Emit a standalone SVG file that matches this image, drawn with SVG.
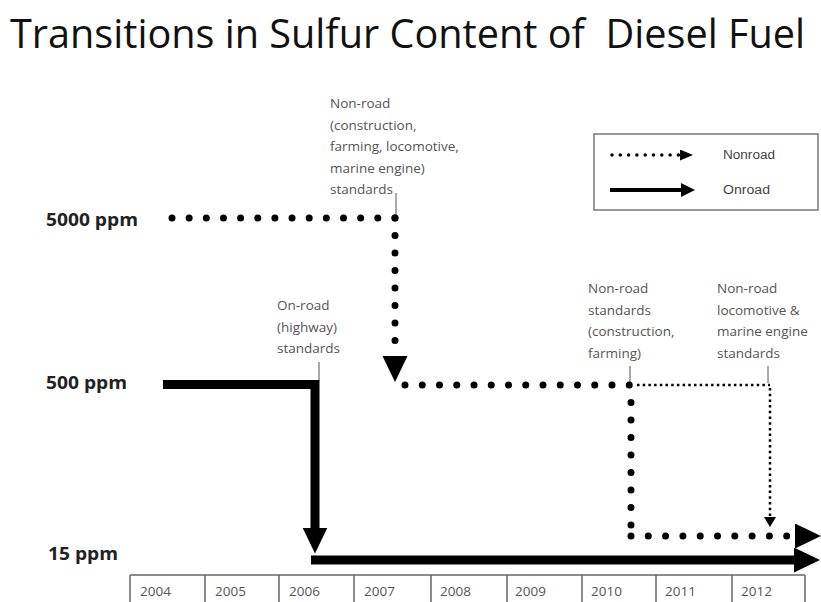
<svg xmlns="http://www.w3.org/2000/svg" width="821" height="602" viewBox="0 0 821 602">
<style>
  .title { font-family: "Open Sans", "Liberation Sans", sans-serif; font-size: 40px; fill: #111; }
  .ppm { font-family: "Open Sans", "Liberation Sans", sans-serif; font-weight: bold; font-size: 18px; fill: #222; }
  .note { font-family: "Open Sans", "Liberation Sans", sans-serif; font-size: 13.5px; fill: #555; }
  .leg { font-family: "Liberation Sans", Arial, sans-serif; font-size: 12px; fill: #444; }
  .year { font-family: "Open Sans", "Liberation Sans", sans-serif; font-size: 13.5px; fill: #555; }
  .tick { stroke: #555; stroke-width: 1; fill: none; }
  .dots { stroke: #000; stroke-width: 7; stroke-linecap: round; stroke-dasharray: 0 17.3; fill: none; }
  .thin { stroke: #000; stroke-width: 2.5; stroke-dasharray: 2.5 3.2; fill: none; }
  .solid { stroke: #000; stroke-width: 9; fill: none; stroke-linejoin: miter; }
  .grid { stroke: #666; stroke-width: 1.5; fill: none; }
</style>
<defs>
  <marker id="big" markerUnits="userSpaceOnUse" markerWidth="27" markerHeight="26" viewBox="0 0 27 26" refX="2" refY="12.5" orient="auto">
    <path d="M0,0 L26,12.5 L0,25 Z" fill="#000"/>
  </marker>
  <marker id="small" markerUnits="userSpaceOnUse" markerWidth="12" markerHeight="13" viewBox="0 0 12 13" refX="1" refY="6" orient="auto">
    <path d="M0,0 L10,6 L0,12 Z" fill="#000"/>
  </marker>
  <marker id="legdot" markerUnits="userSpaceOnUse" markerWidth="14" markerHeight="12" viewBox="0 0 14 12" refX="1" refY="5.5" orient="auto">
    <path d="M0,0 L13,5.5 L0,11 Z" fill="#000"/>
  </marker>
  <marker id="legsol" markerUnits="userSpaceOnUse" markerWidth="15" markerHeight="15" viewBox="0 0 15 15" refX="1" refY="7" orient="auto">
    <path d="M0,0 L14,7 L0,14 Z" fill="#000"/>
  </marker>
</defs>

<rect width="821" height="602" fill="#fff"/>

<text class="title" x="10" y="48" textLength="795" lengthAdjust="spacingAndGlyphs" xml:space="preserve">Transitions in Sulfur Content of  Diesel Fuel</text>

<g id="level-5000">
  <text class="ppm" x="46" y="226" textLength="92" lengthAdjust="spacingAndGlyphs">5000 ppm</text>
</g>
<g id="level-500">
  <text class="ppm" x="46" y="389" textLength="81" lengthAdjust="spacingAndGlyphs">500 ppm</text>
</g>
<g id="level-15">
  <text class="ppm" x="48" y="560" textLength="70" lengthAdjust="spacingAndGlyphs">15 ppm</text>
</g>

<g id="note-nonroad-2007">
  <text class="note" x="330" y="108">Non-road</text>
  <text class="note" x="330" y="129.5">(construction,</text>
  <text class="note" x="330" y="151">farming, locomotive,</text>
  <text class="note" x="330" y="172.5">marine engine)</text>
  <text class="note" x="330" y="194">standards</text>
  <line class="tick" x1="396" y1="193" x2="396" y2="216"/>
</g>

<g id="note-onroad-2006">
  <text class="note" x="277" y="310">On-road</text>
  <text class="note" x="277" y="331.5">(highway)</text>
  <text class="note" x="277" y="353">standards</text>
  <line class="tick" x1="319" y1="362" x2="319" y2="381"/>
</g>

<g id="note-nonroad-2010">
  <text class="note" x="588" y="293">Non-road</text>
  <text class="note" x="588" y="314.5">standards</text>
  <text class="note" x="588" y="336">(construction,</text>
  <text class="note" x="588" y="357.5">farming)</text>
  <line class="tick" x1="630" y1="366" x2="630" y2="383"/>
</g>

<g id="note-nonroad-2012">
  <text class="note" x="717" y="293">Non-road</text>
  <text class="note" x="717" y="314.5">locomotive &amp;</text>
  <text class="note" x="717" y="336">marine engine</text>
  <text class="note" x="717" y="357.5">standards</text>
  <line class="tick" x1="768" y1="366" x2="768" y2="383"/>
</g>

<g id="legend">
  <rect x="594" y="134" width="224" height="76" fill="#fff" stroke="#777" stroke-width="1.5"/>
  <path d="M612,155 H681" stroke="#000" stroke-width="3.5" stroke-linecap="round" stroke-dasharray="0 8.3" fill="none" marker-end="url(#legdot)"/>
  <path d="M610,190 H682" stroke="#000" stroke-width="4" fill="none" marker-end="url(#legsol)"/>
  <text class="leg" x="723" y="159" textLength="52" lengthAdjust="spacingAndGlyphs">Nonroad</text>
  <text class="leg" x="723" y="194" textLength="47" lengthAdjust="spacingAndGlyphs">Onroad</text>
</g>

<g id="connectors">
  <!-- nonroad -->
  <path class="dots" d="M172,218 H395" style="stroke-dasharray:0 17.15"/>
  <path class="dots" d="M395,218 V358" style="stroke-dasharray:0 17.5" marker-end="url(#big)"/>
  <path class="dots" d="M405,385 H630" style="stroke-dasharray:0 17.25"/>
  <path class="thin" d="M637,385 H770"/>
  <path class="thin" d="M770,388 V518" marker-end="url(#small)"/>
  <path class="dots" d="M631,402.5 V526" style="stroke-dasharray:0 17.5"/>
  <path class="dots" d="M631,536 H797" marker-end="url(#big)"/>
  <!-- onroad -->
  <path class="solid" d="M163,384.5 H315 V529.5" marker-end="url(#big)"/>
  <path class="solid" d="M311,560 H796" marker-end="url(#big)"/>
</g>

<g id="timeline">
  <line class="grid" x1="130" y1="575" x2="805" y2="575"/>
  <line class="grid" x1="130" y1="575" x2="130" y2="602"/>
  <line class="grid" x1="205" y1="575" x2="205" y2="602"/>
  <line class="grid" x1="279" y1="575" x2="279" y2="602"/>
  <line class="grid" x1="354" y1="575" x2="354" y2="602"/>
  <line class="grid" x1="431" y1="575" x2="431" y2="602"/>
  <line class="grid" x1="507" y1="575" x2="507" y2="602"/>
  <line class="grid" x1="582" y1="575" x2="582" y2="602"/>
  <line class="grid" x1="656" y1="575" x2="656" y2="602"/>
  <line class="grid" x1="732" y1="575" x2="732" y2="602"/>
  <line class="grid" x1="805" y1="575" x2="805" y2="602"/>
  <text class="year" x="140" y="596">2004</text>
  <text class="year" x="215" y="596">2005</text>
  <text class="year" x="289" y="596">2006</text>
  <text class="year" x="364" y="596">2007</text>
  <text class="year" x="440" y="596">2008</text>
  <text class="year" x="515" y="596">2009</text>
  <text class="year" x="591" y="596">2010</text>
  <text class="year" x="665" y="596">2011</text>
  <text class="year" x="741" y="596">2012</text>
</g>
</svg>
